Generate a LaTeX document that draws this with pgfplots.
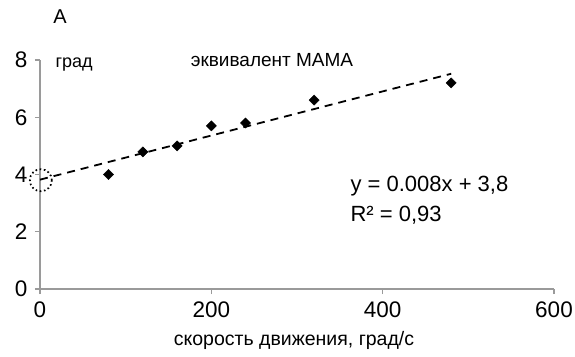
\documentclass[border=0pt]{standalone}
\usepackage{pgfplots}
\pgfplotsset{compat=1.18}
\usepackage{fontspec}
\setmainfont{Liberation Sans}
\definecolor{axisgray}{HTML}{9A9A9A}

\begin{document}
\begin{tikzpicture}[x=1pt,y=1pt]
\path[use as bounding box] (-40,-67) rectangle (535,289);
\begin{axis}[
  at={(0,0)}, anchor=south west,
  scale only axis, width=514pt, height=229pt,
  xmin=0, xmax=600, ymin=0, ymax=8,
  xtick={0,200,400,600}, ytick={0,2,4,6,8},
  axis x line*=bottom, axis y line*=left,
  axis line style={axisgray, line width=1.6pt, -},
  tick style={axisgray, line width=1.2pt},
  tick align=outside, major tick length=5pt,
  ticklabel style={font=\fontsize{22.5}{22.5}\selectfont, text=black},
  /pgf/number format/assume math mode=true,
  xticklabel style={yshift=-4pt},
  yticklabel style={xshift=-4pt},
  clip=false,
]
% measured points
\addplot[only marks, mark=square*, mark size=3.6pt, mark options={rotate=45}, black]
  coordinates {(80,4.0) (120,4.79) (160,5.0) (200,5.7) (240,5.8) (320,6.6) (480,7.2)};
% linear trend line y = 0.0077x + 3.8
\addplot[black, line width=1.8pt, dash pattern=on 8pt off 6pt]
  coordinates {(0,3.82) (480,7.52)};
% intercept marker
\addplot[only marks, mark=o, mark size=11pt, mark options={black, line width=1.7pt, dash pattern=on 1.6pt off 2.6pt}]
  coordinates {(1,3.8)};
\end{axis}
\node[font=\fontsize{20}{20}\selectfont] at (20,272) {A};
\node[font=\fontsize{18}{18}\selectfont, anchor=base west] at (12,221) {град};
\node[font=\fontsize{19}{19}\selectfont, anchor=base] at (232,222) {эквивалент МАМА};
\node[font=\fontsize{22}{22}\selectfont, anchor=base west] at (307,97) {y = 0.008x + 3,8};
\node[font=\fontsize{22}{22}\selectfont, anchor=base west] at (307,67) {R² = 0,93};
\node[font=\fontsize{19.5}{19.5}\selectfont, anchor=base] at (254,-56) {скорость движения, град/с};
\end{tikzpicture}
\end{document}
